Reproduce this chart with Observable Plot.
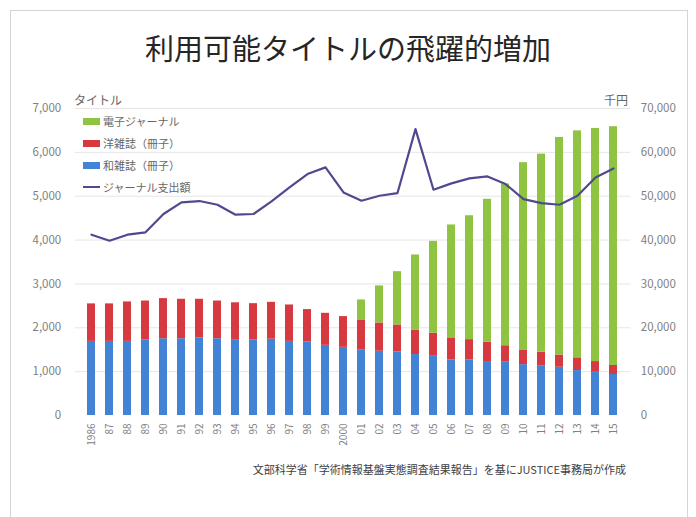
<!DOCTYPE html>
<html><head><meta charset="utf-8">
<script src="https://cdn.jsdelivr.net/npm/d3@7"></script>
<script src="https://cdn.jsdelivr.net/npm/@observablehq/plot@0.6"></script>
<style>
body{margin:0;background:#fff;font-family:"Noto Sans CJK JP","Noto Sans",sans-serif;}
#wrap{position:relative;width:696px;height:517px;overflow:hidden;}
#frame{position:absolute;left:10px;top:10px;width:676px;height:520px;border:1px solid #d4d4d4;}
#title{position:absolute;left:0;top:26px;width:696px;text-align:center;font-size:29px;color:#262626;}
#chart{position:absolute;left:0;top:0;}
.lbl{position:absolute;font-size:12px;color:#666;}
#legend{position:absolute;left:83px;top:110px;font-size:11px;color:#666;}
#legend div{height:22px;display:flex;align-items:center;}
#legend span.sw{display:inline-block;width:17px;height:7px;margin-right:3px;}
#legend span.ln{display:inline-block;width:17px;height:2px;margin-right:3px;background:#4f4a8f;}
#caption{position:absolute;left:250px;top:461px;width:376px;text-align:right;font-size:11px;color:#404040;}
</style></head>
<body><div id="wrap">
<div id="frame"></div>
<div id="chart"></div>
<div id="title">利用可能タイトルの飛躍的増加</div>
<div class="lbl" style="left:74px;top:91px;">タイトル</div>
<div class="lbl" style="left:604px;top:91px;">千円</div>
<div id="legend"></div>
<div id="caption">文部科学省「学術情報基盤実態調査結果報告」を基にJUSTICE事務局が作成</div>
</div>
<script>
const years = ["1986","87","88","89","90","91","92","93","94","95","96","97","98","99","2000","01","02","03","04","05","06","07","08","09","10","11","12","13","14","15"];
const japanese = [1690,1690,1690,1720,1750,1750,1770,1750,1730,1720,1740,1690,1680,1600,1555,1500,1465,1450,1390,1350,1270,1270,1230,1215,1160,1125,1100,1025,985,935];
const foreign = [855,855,900,890,915,900,880,860,840,830,840,830,735,730,700,680,645,615,560,525,500,460,440,375,335,320,280,290,245,205];
const electronic = [0,0,0,0,0,0,0,0,0,0,0,0,0,0,0,455,845,1215,1710,2095,2575,2825,3260,3690,4270,4515,4960,5175,5315,5445];
const spending = [41230,39860,41230,41760,45940,48600,48900,48060,45790,45940,48820,52010,55050,56570,50870,48970,50110,50720,65300,51480,52920,54060,54520,52770,49350,48440,48060,50110,54290,56340];
const seriesNames = ["和雑誌（冊子）","洋雑誌（冊子）","電子ジャーナル"];
const seriesColors = ["#4283d6","#d6393f","#8fc443"];
const lineName = "ジャーナル支出額";
const lineColor = "#4f4a8f";
const leftTicks = [0,1000,2000,3000,4000,5000,6000,7000];

const bars = [];
years.forEach((y,i)=>{
  bars.push({year:y, series:seriesNames[0], v:japanese[i]});
  bars.push({year:y, series:seriesNames[1], v:foreign[i]});
  bars.push({year:y, series:seriesNames[2], v:electronic[i]});
});
const line = years.map((y,i)=>({year:y, v:spending[i]}));
const fmt = d3.format(",");

const W=696,H=517;
const chart = Plot.plot({
  width:W,height:H,
  marginTop:108,marginBottom:102,marginLeft:74.75,marginRight:65.75,
  style:{fontFamily:'"Noto Sans CJK JP","Noto Sans",sans-serif',fontSize:"11px",color:"#666",background:"transparent"},
  x:{type:"band",domain:years,padding:0.55,label:null},
  y:{domain:[0,7000],label:null},
  color:{domain:seriesNames,range:seriesColors},
  marks:[
    Plot.ruleY(leftTicks.slice(1),{stroke:"#e6e6e6",strokeWidth:1}),
    Plot.barY(bars,{x:"year",y:"v",fill:"series",order:seriesNames}),
    Plot.line(line,{x:"year",y:d=>d.v/10,stroke:lineColor,strokeWidth:2.2,strokeLinejoin:"round"}),
    Plot.axisY({ticks:leftTicks,anchor:"left",tickSize:0,tickPadding:14,tickFormat:fmt,fontSize:11.5,fill:"#808080",label:null}),
    Plot.axisY({ticks:leftTicks,anchor:"right",tickSize:0,tickPadding:10,tickFormat:d=>fmt(d*10),fontSize:11.5,fill:"#808080",label:null}),
    Plot.axisX({tickSize:0,tickPadding:8,tickRotate:-90,fontSize:10,fill:"#808080",label:null})
  ]
});
document.getElementById("chart").appendChild(chart);

const lg = document.getElementById("legend");
[[seriesNames[2],seriesColors[2]],[seriesNames[1],seriesColors[1]],[seriesNames[0],seriesColors[0]]].forEach(([n,c])=>{
  const d=document.createElement("div");
  d.innerHTML=`<span class="sw" style="background:${c}"></span>${n}`;
  lg.appendChild(d);
});
const dl=document.createElement("div");
dl.innerHTML=`<span class="ln"></span>${lineName}`;
lg.appendChild(dl);
</script>
</body></html>
